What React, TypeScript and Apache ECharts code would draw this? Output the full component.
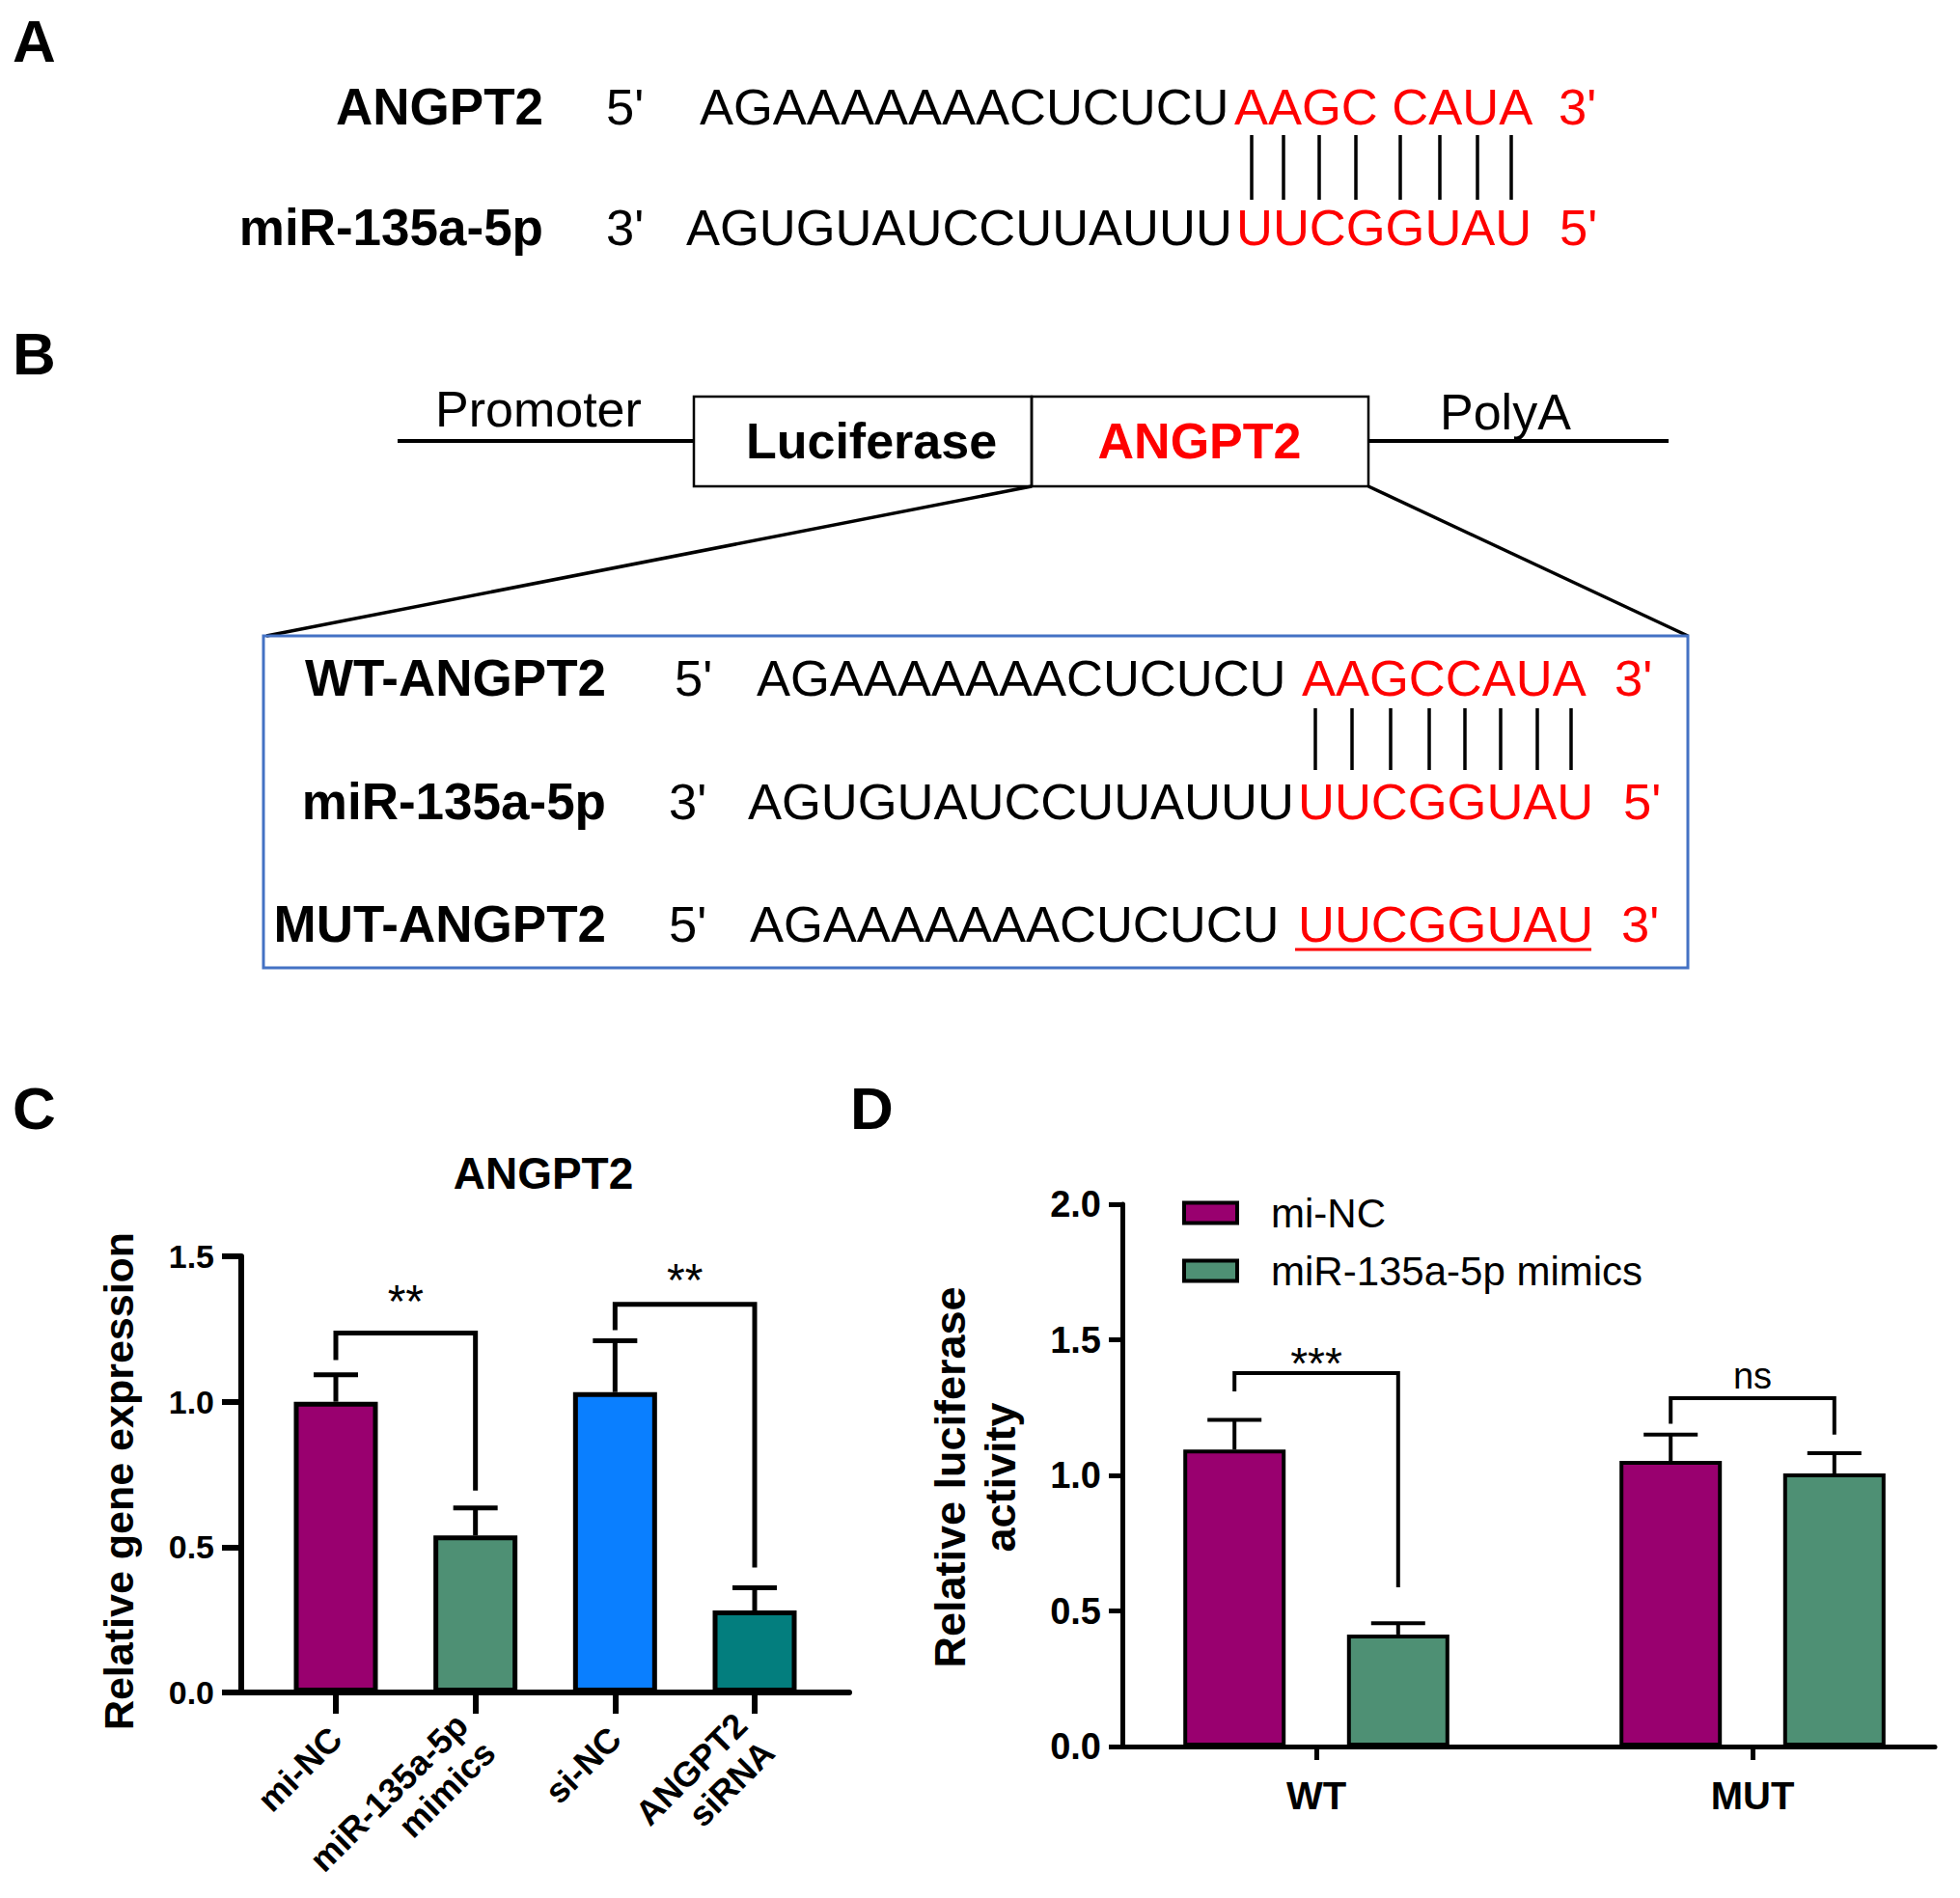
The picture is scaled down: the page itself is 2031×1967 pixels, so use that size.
import React, { useEffect, useRef } from "react";
import * as echarts from "echarts";

const FONT = '"Liberation Sans", Arial, Helvetica, sans-serif';
const RED = "#FF0000";
const BLACK = "#000000";

// ---------- Panel labels ----------
const panelLetters = ["A", "B", "C", "D"];

// ---------- Panel A: sequence pairing ----------
const aRowLabels = ["ANGPT2", "miR-135a-5p"];
const aRowEnds = [["5'", "3'"], ["3'", "5'"]];
const aSeqBlack = ["AGAAAAAAACUCUCU", "AGUGUAUCCUUAUUU"];
const aSeqRed = ["AAGC CAUA", "UUCGGUAU"];

// ---------- Panel B: construct ----------
const bConstruct = ["Promoter", "Luciferase", "ANGPT2", "PolyA"];
const bRowLabels = ["WT-ANGPT2", "miR-135a-5p", "MUT-ANGPT2"];
const bRowEnds = [["5'", "3'"], ["3'", "5'"], ["5'", "3'"]];
const bSeqBlack = ["AGAAAAAAACUCUCU", "AGUGUAUCCUUAUUU", "AGAAAAAAACUCUCU"];
const bSeqRed = ["AAGCCAUA", "UUCGGUAU", "UUCGGUAU"];

// ---------- Panel C: ANGPT2 expression ----------
const cTitle = "ANGPT2";
const cYName = "Relative gene expression";
const cCategories = ["mi-NC", "miR-135a-5p\nmimics", "si-NC", "ANGPT2\nsiRNA"];
const cMeans = [1.0, 0.54, 1.033, 0.282];
const cErrTop = [1.093, 0.635, 1.21, 0.36];
const cColors = ["#99006F", "#4E9074", "#0A7FFF", "#037E7E"];
const cYMin = 0;
const cYMax = 1.5;
const cYStep = 0.5;
// brackets: [left category, right category, left leg bottom, right leg bottom, top]
const cBrackets = [
  [0, 1, 1.143, 0.694, 1.236],
  [2, 3, 1.246, 0.43, 1.335],
];
const cBracketLabels = ["**", "**"];

// ---------- Panel D: luciferase activity ----------
const dYName = "Relative luciferase\nactivity";
const dCategories = ["WT", "MUT"];
const dNames = ["mi-NC", "miR-135a-5p mimics"];
const dColors = ["#99006F", "#4E9074"];
const dMiNC = [1.095, 1.053];
const dMiNCErr = [1.205, 1.15];
const dMimics = [0.413, 1.007];
const dMimicsErr = [0.455, 1.082];
const dYMin = 0;
const dYMax = 2.0;
const dYStep = 0.5;
// brackets within a category: [category, left leg bottom, right leg bottom, top]
const dBrackets = [
  [0, 1.31, 0.587, 1.377],
  [1, 1.19, 1.15, 1.285],
];
const dBracketLabels = ["***", "ns"];

// ---------- style constants ----------
const cBarWidth = 87;
const dBarWidth = 106;
const dBarGap = 0.6;
const dOffset = (dBarWidth * (1 + dBarGap)) / 2;
const cLabelLift = [33, 25];
const dLabelLift = [10, 23];
const SEQ = 52.5;
const LAB = 53;

const font = (size: number, bold = false) => `${bold ? "bold " : ""}${size}px ${FONT}`;

function txt(text: string, x: number, y: number, size: number, opt: any = {}) {
  const align = opt.align || "left";
  return {
    type: "text",
    x,
    y,
    rotation: opt.rotation || 0,
    style: {
      text,
      fill: opt.color || BLACK,
      font: font(size, !!opt.bold),
      align,
      verticalAlign: "middle",
      textAlign: align,
      textVerticalAlign: "middle",
      lineHeight: opt.lineHeight,
    },
  };
}

function line(x1: number, y1: number, x2: number, y2: number, w: number, color = BLACK) {
  return { type: "line", shape: { x1, y1, x2, y2 }, style: { stroke: color, lineWidth: w } };
}

function buildGraphics() {
  const g: any[] = [];
  // Panel letters
  g.push(txt(panelLetters[0], 13, 42, 62, { bold: true }));
  g.push(txt(panelLetters[1], 13, 366, 62, { bold: true }));
  g.push(txt(panelLetters[2], 13, 1148, 62, { bold: true }));
  g.push(txt(panelLetters[3], 881, 1148, 62, { bold: true }));

  // Panel A
  const aY = [110, 235];
  const aBlackX = [725, 711];
  const aRedX = [1279, 1281];
  const aEnd3X = [1615, 1616];
  aRowLabels.forEach((lab, i) => {
    g.push(txt(lab, 563, aY[i], LAB, { bold: true, align: "right" }));
    g.push(txt(aRowEnds[i][0], 628, aY[i], SEQ));
    g.push(txt(aSeqBlack[i], aBlackX[i], aY[i], SEQ));
    g.push(txt(aSeqRed[i], aRedX[i], aY[i], SEQ, { color: RED }));
    g.push(txt(aRowEnds[i][1], aEnd3X[i], aY[i], SEQ, { color: RED }));
  });
  [1297, 1330, 1367, 1405, 1451, 1492, 1531, 1566].forEach((x) => g.push(line(x, 140, x, 207, 3.5)));

  // Panel B construct
  g.push(line(412, 457, 719, 457, 4));
  g.push(line(1418, 457, 1729, 457, 4));
  g.push(txt(bConstruct[0], 451, 424, 52));
  g.push(txt(bConstruct[3], 1492, 427, 52));
  g.push({ type: "rect", shape: { x: 719, y: 411, width: 350, height: 93 }, style: { fill: "none", stroke: BLACK, lineWidth: 2.5 } });
  g.push({ type: "rect", shape: { x: 1069, y: 411, width: 349, height: 93 }, style: { fill: "none", stroke: BLACK, lineWidth: 2.5 } });
  g.push(txt(bConstruct[1], 903, 457, 52, { bold: true, align: "center" }));
  g.push(txt(bConstruct[2], 1243, 457, 52, { bold: true, align: "center", color: RED }));
  g.push(line(1069, 504, 276, 659, 3.5));
  g.push(line(1418, 504, 1749, 659, 3.5));
  g.push({ type: "rect", shape: { x: 273, y: 659, width: 1476, height: 344 }, style: { fill: "none", stroke: "#4472C4", lineWidth: 3 } });

  const bY = [702, 830, 957];
  const bEnd5X = [699, 693, 693];
  const bBlackX = [784, 775, 777];
  const bRedX = [1349, 1345, 1345];
  const bEnd3X = [1673, 1682, 1680];
  bRowLabels.forEach((lab, i) => {
    g.push(txt(lab, 628, bY[i], LAB, { bold: true, align: "right" }));
    g.push(txt(bRowEnds[i][0], bEnd5X[i], bY[i], SEQ));
    g.push(txt(bSeqBlack[i], bBlackX[i], bY[i], SEQ));
    g.push(txt(bSeqRed[i], bRedX[i], bY[i], SEQ, { color: RED }));
    g.push(txt(bRowEnds[i][1], bEnd3X[i], bY[i], SEQ, { color: RED }));
  });
  [1363, 1401, 1441, 1481, 1518, 1555, 1593, 1628].forEach((x) => g.push(line(x, 734, x, 798, 3.5)));
  g.push(line(1342, 984, 1649, 984, 3, RED));

  // Panel C title & axis name
  g.push(txt(cTitle, 563, 1216, 46, { bold: true, align: "center" }));
  g.push(txt(cYName, 123, 1535, 43, { bold: true, align: "center", rotation: Math.PI / 2 }));
  // Panel D axis name
  g.push(txt(dYName, 1010, 1531, 45, { bold: true, align: "center", rotation: Math.PI / 2, lineHeight: 52 }));
  return g;
}

function errorRender(offset: (side: number) => number, lw: number, cap: number) {
  return (params: any, api: any) => {
    const side = api.value(3) || 0;
    const p0 = api.coord([api.value(0), api.value(1)]);
    const p1 = api.coord([api.value(0), api.value(2)]);
    const x = p0[0] + offset(side);
    return {
      type: "group",
      children: [
        { type: "line", shape: { x1: x, y1: p0[1], x2: x, y2: p1[1] }, style: { stroke: BLACK, lineWidth: lw } },
        { type: "line", shape: { x1: x - cap / 2, y1: p1[1], x2: x + cap / 2, y2: p1[1] }, style: { stroke: BLACK, lineWidth: lw } },
      ],
    };
  };
}

export default function App() {
  const ref = useRef<HTMLDivElement>(null);
  useEffect(() => {
    document.body.style.margin = "0";
    if (!ref.current) return;
    const chart = echarts.init(ref.current, undefined, { renderer: "svg" });

    const axisBlack = (w: number) => ({ show: true, lineStyle: { color: BLACK, width: w } });
    const gridBase = { containLabel: false, outerBoundsMode: "none" };

    const option: any = {
      animation: false,
      backgroundColor: "#ffffff",
      textStyle: { fontFamily: FONT, color: BLACK },
      grid: [
        { ...gridBase, left: 250, top: 1302, width: 630, height: 452 },
        { ...gridBase, left: 348, top: 1302, width: 434, height: 452 },
        { ...gridBase, left: 1163, top: 1248, width: 842, height: 562 },
        { ...gridBase, left: 1364, top: 1248, width: 452, height: 562 },
      ],
      legend: {
        data: dNames,
        orient: "vertical",
        left: 1220,
        top: 1229,
        itemWidth: 55,
        itemHeight: 21,
        itemGap: 14,
        icon: "rect",
        selectedMode: false,
        itemStyle: { borderColor: BLACK, borderWidth: 4 },
        textStyle: { fontFamily: FONT, fontSize: 42, color: BLACK, lineHeight: 46, padding: [0, 0, 0, 30] },
      },
      xAxis: [
        { gridIndex: 0, type: "value", min: 0, max: 1, axisLine: axisBlack(6), axisTick: { show: false }, axisLabel: { show: false }, splitLine: { show: false } },
        {
          gridIndex: 1,
          type: "category",
          data: cCategories,
          boundaryGap: false,
          axisLine: { show: false },
          axisTick: { show: true, length: 22, lineStyle: { color: BLACK, width: 6 } },
          axisLabel: { interval: 0, rotate: 45, margin: 42, fontSize: 36, fontWeight: "bold", color: BLACK, fontFamily: FONT, lineHeight: 40 },
        },
        { gridIndex: 2, type: "value", min: 0, max: 1, axisLine: axisBlack(5), axisTick: { show: false }, axisLabel: { show: false }, splitLine: { show: false } },
        {
          gridIndex: 3,
          type: "category",
          data: dCategories,
          boundaryGap: false,
          axisLine: { show: false },
          axisTick: { show: true, length: 14, lineStyle: { color: BLACK, width: 5 } },
          axisLabel: { interval: 0, margin: 31, fontSize: 40, fontWeight: "bold", color: BLACK, fontFamily: FONT },
        },
      ],
      yAxis: [
        {
          gridIndex: 0,
          type: "value",
          min: cYMin,
          max: cYMax,
          interval: cYStep,
          axisLine: axisBlack(6),
          axisTick: { show: true, length: 20, lineStyle: { color: BLACK, width: 6 } },
          axisLabel: { margin: 28, fontSize: 34, fontWeight: "bold", color: BLACK, fontFamily: FONT, formatter: (v: number) => v.toFixed(1) },
          splitLine: { show: false },
        },
        { gridIndex: 1, type: "value", min: cYMin, max: cYMax, show: false },
        {
          gridIndex: 2,
          type: "value",
          min: dYMin,
          max: dYMax,
          interval: dYStep,
          axisLine: axisBlack(5),
          axisTick: { show: true, length: 14, lineStyle: { color: BLACK, width: 5 } },
          axisLabel: { margin: 22, fontSize: 38, fontWeight: "bold", color: BLACK, fontFamily: FONT, formatter: (v: number) => v.toFixed(1) },
          splitLine: { show: false },
        },
        { gridIndex: 3, type: "value", min: dYMin, max: dYMax, show: false },
      ],
      graphic: buildGraphics(),
      series: [
        {
          name: "C",
          type: "bar",
          xAxisIndex: 1,
          yAxisIndex: 1,
          barWidth: cBarWidth,
          data: cMeans.map((v, i) => ({ value: v, itemStyle: { color: cColors[i] } })),
          itemStyle: { borderColor: BLACK, borderWidth: 5 },
          z: 2,
        },
        {
          name: "C-err",
          type: "custom",
          xAxisIndex: 1,
          yAxisIndex: 1,
          encode: { x: 0, y: [1, 2] },
          data: cMeans.map((m, i) => [i, m, cErrTop[i], 0]),
          renderItem: errorRender(() => 0, 5, 46),
          z: 3,
        },
        {
          name: "C-sig",
          type: "custom",
          xAxisIndex: 1,
          yAxisIndex: 1,
          encode: { x: 0, y: 4 },
          data: cBrackets,
          renderItem: (params: any, api: any) => {
            const i = params.dataIndex;
            const l = api.value(0);
            const r = api.value(1);
            const top = api.value(4);
            const pLB = api.coord([l, api.value(2)]);
            const pRB = api.coord([r, api.value(3)]);
            const pLT = api.coord([l, top]);
            const pRT = api.coord([r, top]);
            return {
              type: "group",
              children: [
                { type: "polyline", shape: { points: [pLB, pLT, pRT, pRB] }, style: { stroke: BLACK, lineWidth: 5, fill: "none" } },
                {
                  type: "text",
                  x: (pLT[0] + pRT[0]) / 2,
                  y: pLT[1] - cLabelLift[i],
                  style: { text: cBracketLabels[i], font: font(48), fill: BLACK, align: "center", verticalAlign: "middle" },
                },
              ],
            };
          },
          z: 3,
        },
        {
          name: dNames[0],
          type: "bar",
          xAxisIndex: 3,
          yAxisIndex: 3,
          barWidth: dBarWidth,
          barGap: `${dBarGap * 100}%`,
          data: dMiNC,
          itemStyle: { color: dColors[0], borderColor: BLACK, borderWidth: 4 },
          z: 2,
        },
        {
          name: dNames[1],
          type: "bar",
          xAxisIndex: 3,
          yAxisIndex: 3,
          barWidth: dBarWidth,
          barGap: `${dBarGap * 100}%`,
          data: dMimics,
          itemStyle: { color: dColors[1], borderColor: BLACK, borderWidth: 4 },
          z: 2,
        },
        {
          name: "D-err",
          type: "custom",
          xAxisIndex: 3,
          yAxisIndex: 3,
          encode: { x: 0, y: [1, 2] },
          data: [
            ...dMiNC.map((m, i) => [i, m, dMiNCErr[i], -1]),
            ...dMimics.map((m, i) => [i, m, dMimicsErr[i], 1]),
          ],
          renderItem: errorRender((s) => s * dOffset, 4, 56),
          z: 3,
        },
        {
          name: "D-sig",
          type: "custom",
          xAxisIndex: 3,
          yAxisIndex: 3,
          encode: { x: 0, y: 3 },
          data: dBrackets,
          renderItem: (params: any, api: any) => {
            const i = params.dataIndex;
            const c = api.value(0);
            const top = api.value(3);
            const pc = api.coord([c, top]);
            const lx = pc[0] - dOffset;
            const rx = pc[0] + dOffset;
            const lb = api.coord([c, api.value(1)])[1];
            const rb = api.coord([c, api.value(2)])[1];
            return {
              type: "group",
              children: [
                { type: "polyline", shape: { points: [[lx, lb], [lx, pc[1]], [rx, pc[1]], [rx, rb]] }, style: { stroke: BLACK, lineWidth: 4, fill: "none" } },
                {
                  type: "text",
                  x: pc[0],
                  y: pc[1] - dLabelLift[i],
                  style: { text: dBracketLabels[i], font: font(dBracketLabels[i] === "ns" ? 38 : 46), fill: BLACK, align: "center", verticalAlign: "middle" },
                },
              ],
            };
          },
          z: 3,
        },
      ],
    };
    chart.setOption(option);
    return () => chart.dispose();
  }, []);
  return <div ref={ref} style={{ width: 2031, height: 1967, display: "block" }} />;
}
